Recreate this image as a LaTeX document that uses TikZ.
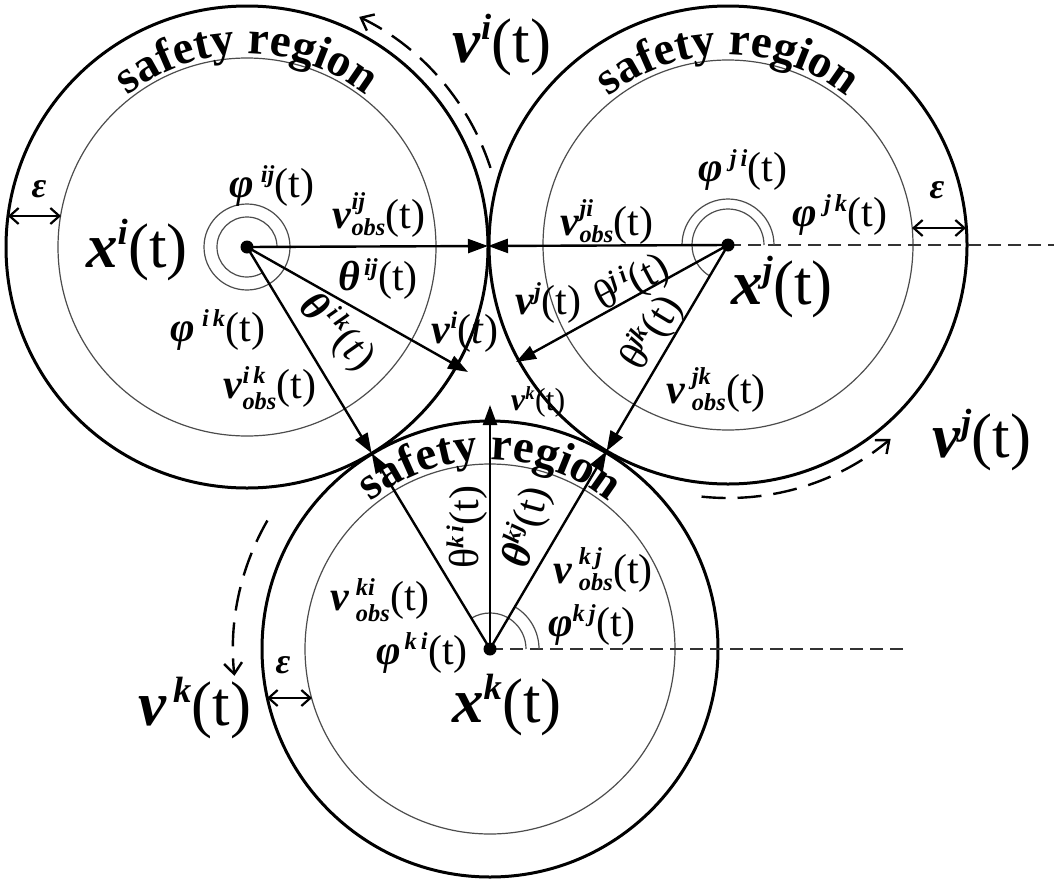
\RequirePackage{fix-cm}
\documentclass[tikz,border=0pt]{standalone}
\usepackage{amsmath}
\usepackage{fontspec}
\setmainfont{Liberation Serif}
\usetikzlibrary{arrows.meta,calc,decorations.text}

\renewcommand{\defaultscriptratio}{.58}
\newcommand{\bi}[1]{\textbf{\textit{#1}}}

\begin{document}
\begin{tikzpicture}[
    x=1pt, y=-1pt,
    ring/.style={black, line width=3pt},
    inner/.style={black!70, line width=1.2pt},
    vec/.style={line width=2.4pt, -{Triangle[length=20pt,width=14pt]}},
    agl/.style={black!70, line width=1.2pt},
    axis/.style={black!80, line width=2pt, dash pattern=on 13pt off 7pt},
    motion/.style={line width=2.4pt, dash pattern=on 24pt off 12pt, -{Straight Barb[length=11pt,width=18pt]}},
    gap/.style={line width=2.2pt, {Straight Barb[length=9pt,width=16pt]}-{Straight Barb[length=9pt,width=16pt]}},
    dot/.style={circle, fill=black, inner sep=0pt, minimum size=13pt},
    big/.style={font=\fontsize{63}{63}\selectfont},
    mid/.style={font=\fontsize{42}{42}\selectfont},
    sml/.style={font=\fontsize{32}{32}\selectfont},
    sreg/.style={decorate, decoration={text along path, text align=center,
        text={|\fontsize{47}{47}\selectfont\bfseries|safety region}}}
]

% Radii
\def\Ri{241}
\def\ri{189}
\def\Rj{239}
\def\rj{185}
\def\Rk{228}
\def\rk{185}

\useasboundingbox (0,0) rectangle (1054,886);

% Centres and contact points
\coordinate (Ci) at (247,247);
\coordinate (Cj) at (728,245);
\coordinate (Ck) at (490,649);
\coordinate (Tij) at ($(Ci)!0.501!(Cj)$);
\coordinate (Tik) at ($(Ci)!0.513!(Ck)$);
\coordinate (Tjk) at ($(Cj)!0.510!(Ck)$);
\coordinate (vi) at (468,372);
\coordinate (vj) at (516,362);
\coordinate (vk) at (490,405);
\coordinate (ej) at (1054,245);
\coordinate (ek) at (905,649);

% ============================================================
% Safety regions
% ============================================================
\draw[ring] (Ci) circle[radius=\Ri];
\draw[inner] (Ci) circle[radius=\ri];
\draw[ring] (Cj) circle[radius=\Rj];
\draw[inner] (Cj) circle[radius=\rj];
\draw[ring] (Ck) circle[radius=\Rk];
\draw[inner] (Ck) circle[radius=\rk];

\path[sreg] (Ci) ++(-165:193) arc[start angle=-165, end angle=-15, radius=193];
\path[sreg] (Cj) ++(-165:190) arc[start angle=-165, end angle=-15, radius=190];
\path[sreg] (Ck) ++(-165:189) arc[start angle=-165, end angle=-15, radius=189];

% Reference axes
\draw[axis] (Cj) -- (ej);
\draw[axis] (Ck) -- (ek);

% Angles
\draw[agl] (Ci) circle[radius=43];
\draw[agl] (Ci) ++(0:30) arc[start angle=0, end angle=-301, radius=30];
\draw[agl] (Cj) ++(0:46) arc[start angle=0, end angle=-180, radius=46];
\draw[agl] (Cj) ++(0:36) arc[start angle=0, end angle=-239.5, radius=36];
\draw[agl] (Ck) ++(0:36) arc[start angle=0, end angle=-121, radius=36];
\draw[agl] (Ck) ++(0:49) arc[start angle=0, end angle=-59, radius=49];

% Agents
\node[dot] (xi) at (Ci) {};
\node[dot] (xj) at (Cj) {};
\node[dot] (xk) at (Ck) {};

% Velocity vectors
\draw[vec] (xi.center) -- (Tij);
\draw[vec] (xi.center) -- (vi);
\draw[vec] (xi.center) -- (Tik);
\draw[vec] (xj.center) -- (Tij);
\draw[vec] (xj.center) -- (vj);
\draw[vec] (xj.center) -- (Tjk);
\draw[vec] (xk.center) -- (Tik);
\draw[vec] (xk.center) -- (vk);
\draw[vec] (xk.center) -- (Tjk);

% ============================================================
% Labels of agent i
% ============================================================
\node[big] (lxi) at (137,250) {\bi{x}$^{\bi{i}}$(t)};
\node[mid] (lphij) at (272,186) {\bi{φ}$^{\;\bi{ij}}$(t)};
\node[mid] (lphik) at (218,330) {\bi{φ}$^{\;\bi{i\,k}}$(t)};
\node[mid] (lvij) at (379,215) {\bi{v}$^{\bi{ij}}_{\bi{obs}}$(t)};
\node[mid] (lthij) at (378,279) {\bi{θ}$^{\,\bi{ij}}$(t)};
\node[mid, rotate=-45] (lthik) at (337,332) {\bi{θ}$^{\,\bi{i\,k}}$(\textit{t})};
\node[mid] (lvi) at (465,332) {\bi{v}$^{\bi{i}}$(\textit{t})};
\node[mid] (lvik) at (270,388) {\bi{v}$^{\bi{i\,k}}_{\bi{obs}}$(t)};

% ============================================================
% Labels of agent j
% ============================================================
\node[mid] (lphji) at (743,170) {\bi{φ}$^{\;\bi{j\,i}}$(t)};
\node[mid] (lvji) at (607,222) {\bi{v}$^{\bi{ji}}_{\bi{obs}}$(t)};
\node[mid] (lphjk) at (840,215) {\bi{φ}$^{\;\bi{j\,k}}$(t)};
\node[big] (lxj) at (782,287) {\bi{x}$^{\bi{j}}$(t)};
\node[mid, rotate=28] (lthji) at (632,283) {θ$^{\bi{j\,i}}$(t)};
\node[mid] (lvj) at (548,303) {\bi{v}$^{\bi{j}}$(t)};
\node[mid, rotate=59] (lthjk) at (652,333) {θ$^{\bi{jk}}$(t)};
\node[mid] (lvjk) at (716,390) {\bi{v}$^{\;\bi{jk}}_{\;\bi{obs}}$(t)};

% ============================================================
% Labels of agent k
% ============================================================
\node[sml] (lvk) at (538,402) {\bi{v}$^{\bi{k}}$(t)};
\node[mid, rotate=90] (lthki) at (467,527) {θ$^{\bi{k\,i}}$(t)};
\node[mid, rotate=75] (lthkj) at (527,527) {\bi{θ}$^{\bi{kj}}$(t)};
\node[mid] (lvkj) at (603,570) {\bi{v}$^{\;\bi{k\,j}}_{\;\bi{obs}}$(t)};
\node[mid] (lvki) at (380,600) {\bi{v}$^{\;\bi{ki}}_{\;\bi{obs}}$(t)};
\node[mid] (lphkj) at (592,625) {\bi{φ}$^{\bi{k\,j}}$(t)};
\node[mid] (lphki) at (422,653) {\bi{φ}$^{\,\bi{k\,i}}$(t)};
\node[big] (lxk) at (507,705) {\bi{x}$^{\bi{k}}$(t)};

% ============================================================
% Motion directions and margins
% ============================================================
\draw[motion] (Ci) ++(-18:256) arc[start angle=-18, end angle=-64, radius=256];
\draw[motion] (Cj) ++(96:253) arc[start angle=96, end angle=50, radius=253];
\draw[motion] (Ck) ++(210:257) arc[start angle=210, end angle=174, radius=257];
\node[big] (lmi) at (502,45) {\bi{v}$^{\bi{i}}$(t)};
\node[big] (lmj) at (982,440) {\bi{v}$^{\bi{j}}$(t)};
\node[big] (lmk) at (195,708) {\bi{v}$^{\,\bi{k}}$(t)};

\coordinate (ai) at (8,216);
\coordinate (bi) at (61,216);
\coordinate (aj) at (912,228);
\coordinate (bj) at (966,228);
\coordinate (ak) at (267,698);
\coordinate (bk) at (312,698);
\draw[gap] (ai) -- (bi);
\draw[gap] (aj) -- (bj);
\draw[gap] (ak) -- (bk);
\node[font=\fontsize{36}{36}\selectfont] (lei) at (39,189) {\bi{ε}};
\node[font=\fontsize{36}{36}\selectfont] (lej) at (937,190) {\bi{ε}};
\node[font=\fontsize{36}{36}\selectfont] (lek) at (283,665) {\bi{ε}};
\end{tikzpicture}
\end{document}
